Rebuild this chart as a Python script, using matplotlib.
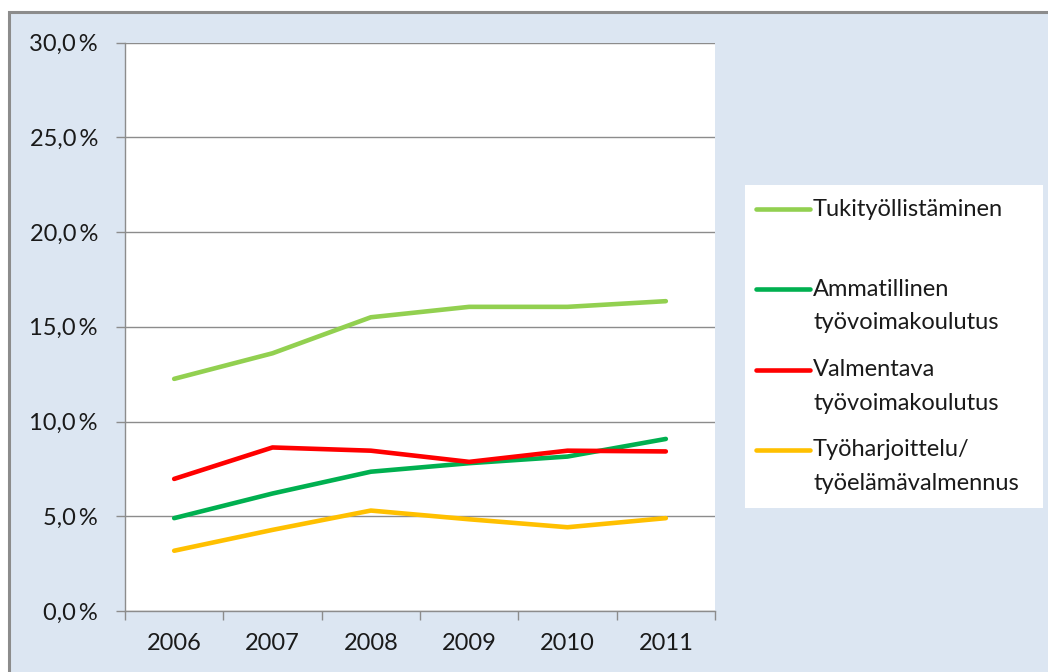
import numpy as np
import matplotlib.pyplot as plt
from matplotlib.patches import Rectangle
from matplotlib.lines import Line2D

plt.rcParams['font.family'] = ['Lato', 'DejaVu Sans']

# Data (%)
years = ['2006', '2007', '2008', '2009', '2010', '2011']
labels = ['Tukityöllistäminen',
          'Ammatillinen\ntyövoimakoulutus',
          'Valmentava\ntyövoimakoulutus',
          'Työharjoittelu/\ntyöelämävalmennus']
tuki = [12.25, 13.6, 15.5, 16.05, 16.05, 16.35]
ammatillinen = [4.9, 6.2, 7.35, 7.8, 8.15, 9.08]
valmentava = [6.97, 8.63, 8.46, 7.87, 8.46, 8.42]
harjoittelu = [3.18, 4.28, 5.3, 4.84, 4.42, 4.9]
series = [tuki, ammatillinen, valmentava, harjoittelu]
colors = ['#92d050', '#00b050', '#ff0000', '#ffc000']

W, H = 1048, 672
FS = 17
fig = plt.figure(figsize=(W / 100, H / 100), dpi=100)
fig.patch.set_facecolor('white')

# chart area background with grey border
bg = Rectangle((9 / W, -0.1), 1.1, (H - 12) / H + 0.1, transform=fig.transFigure,
               facecolor='#dce6f2', edgecolor='#8c8c8c', linewidth=2.2, zorder=0)
fig.add_artist(bg)

ax = fig.add_axes([125 / W, (H - 611) / H, 590 / W, (611 - 42.5) / H])
ax.set_facecolor('white')
ax.set_zorder(1)

x = np.arange(len(years)) + 0.5
for vals, c, lab in zip(series, colors, labels):
    ax.plot(x, vals, color=c, lw=3.3, solid_capstyle='round', solid_joinstyle='round', label=lab)

ax.set_xlim(0, len(years))
ax.set_ylim(0, 30)
ax.set_yticks(np.arange(0, 31, 5))
ax.set_yticklabels([f'{v:.1f}'.replace('.', ',') + '\u2009%' for v in np.arange(0, 31, 5)])
ax.yaxis.grid(True, color='#8c8c8c', lw=1)
ax.set_axisbelow(True)

ax.set_xticks(np.arange(0, len(years) + 1))
ax.set_xticklabels([])
ax.set_xticks(x, minor=True)
ax.set_xticklabels(years, minor=True)
ax.tick_params(axis='x', which='major', direction='out', length=6.5, width=1, color='#8c8c8c')
ax.tick_params(axis='x', which='minor', length=0, pad=16, labelsize=FS, labelcolor='#1a1a1a')
ax.tick_params(axis='y', direction='out', length=6.5, width=1, color='#8c8c8c',
               pad=13, labelsize=FS, labelcolor='#1a1a1a')

for s in ['top', 'right']:
    ax.spines[s].set_visible(False)
for s in ['left', 'bottom']:
    ax.spines[s].set_color('#8c8c8c')
    ax.spines[s].set_linewidth(1)

# legend box drawn on the right
lx0, ly0, lx1, ly1 = 745, 185, 1043, 508
fig.add_artist(Rectangle((lx0 / W, 1 - ly1 / H), (lx1 - lx0) / W, (ly1 - ly0) / H,
                         transform=fig.transFigure, facecolor='white', edgecolor='none', zorder=2))
entry_y = [209, 289, 370, 450]
for lab, c, yy in zip(labels, colors, entry_y):
    fig.add_artist(Line2D([756 / W, 810 / W], [1 - yy / H, 1 - yy / H], transform=fig.transFigure,
                          color=c, lw=3.3, solid_capstyle='round', zorder=3))
    for i, part in enumerate(lab.split('\n')):
        fig.text(813 / W, 1 - (yy + i * 33) / H, part, ha='left', va='center',
                 fontsize=FS, color='#1a1a1a', zorder=3)

fig.savefig('out.png', dpi=100)
